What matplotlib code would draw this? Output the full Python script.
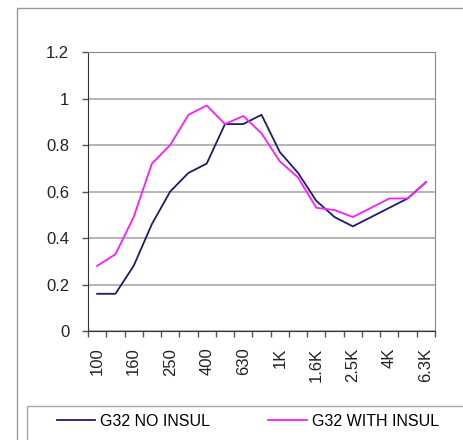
import matplotlib.pyplot as plt
from matplotlib.patches import Rectangle

plt.rcParams['font.family'] = ['Liberation Sans', 'DejaVu Sans']

bands = ['100', '125', '160', '200', '250', '315', '400', '500', '630', '800',
         '1K', '1.25K', '1.6K', '2K', '2.5K', '3.15K', '4K', '5K', '6.3K']
no_insul = [0.16, 0.16, 0.28, 0.46, 0.60, 0.68, 0.72, 0.89, 0.89, 0.93,
            0.77, 0.68, 0.56, 0.49, 0.45, 0.49, 0.53, 0.57, 0.64]
with_insul = [0.28, 0.33, 0.49, 0.72, 0.80, 0.93, 0.97, 0.89, 0.925, 0.85,
              0.73, 0.66, 0.53, 0.52, 0.49, 0.53, 0.57, 0.57, 0.64]
yticks = [0, 0.2, 0.4, 0.6, 0.8, 1.0, 1.2]
ytick_labels = ['0', '0.2', '0.4', '0.6', '0.8', '1', '1.2']

W, H = 463, 440
fig = plt.figure(figsize=(W / 100, H / 100), dpi=100)

# outer chart border (cropped on the right/bottom like the reference)
fig.patches.append(Rectangle((17 / W, -0.2), 1.2, 1 - 8 / H + 0.2,
                             transform=fig.transFigure, fill=False,
                             edgecolor='#9a9a9a', linewidth=1.0))
# legend box
fig.patches.append(Rectangle((27 / W, -0.2), 1.2, 1 - 406 / H + 0.2,
                             transform=fig.transFigure, fill=False,
                             edgecolor='#a8a8a8', linewidth=1.0))

ax = fig.add_axes([88 / W, 1 - 331 / H, (435 - 88) / W, (331 - 52) / H])
x = list(range(len(bands)))
l1, = ax.plot(x, no_insul, color='#1c1c6b', linewidth=1.3, label='G32 NO INSUL')
l2, = ax.plot(x, with_insul, color='#ff1aff', linewidth=1.3, label='G32 WITH INSUL')

ax.set_xlim(-0.5, len(bands) - 0.5)
ax.set_ylim(0, 1.2)
ax.set_yticks(yticks)
ax.set_yticklabels(ytick_labels)
ax.yaxis.grid(True, color='#a0a0a0', linewidth=1.1)
ax.set_axisbelow(True)

ax.set_xticks(x[::2])
ax.set_xticklabels(bands[::2], rotation=90, va='top', ha='center')
ax.set_xticks([i - 0.5 for i in range(len(bands) + 1)], minor=True)
ax.tick_params(axis='x', which='major', length=0, pad=12, labelsize=12, colors='#222222')
ax.tick_params(axis='x', which='minor', length=4, width=1, color='#555555')
ax.tick_params(axis='y', length=4.5, width=1, pad=9, labelsize=12, color='#555555',
               labelcolor='#222222')

for side in ['left', 'bottom']:
    ax.spines[side].set_color('#333333')
for side in ['top', 'right']:
    ax.spines[side].set_color('#8a8a8a')

fig.legend(handles=[l1, l2], loc='center left', ncol=2, frameon=False,
           bbox_to_anchor=(57 / W, 1 - 421 / H), borderpad=0, borderaxespad=0,
           handlelength=2.4, handletextpad=0.3, columnspacing=3.65,
           prop={'size': 11.5})

fig.savefig('out.png', dpi=100)
